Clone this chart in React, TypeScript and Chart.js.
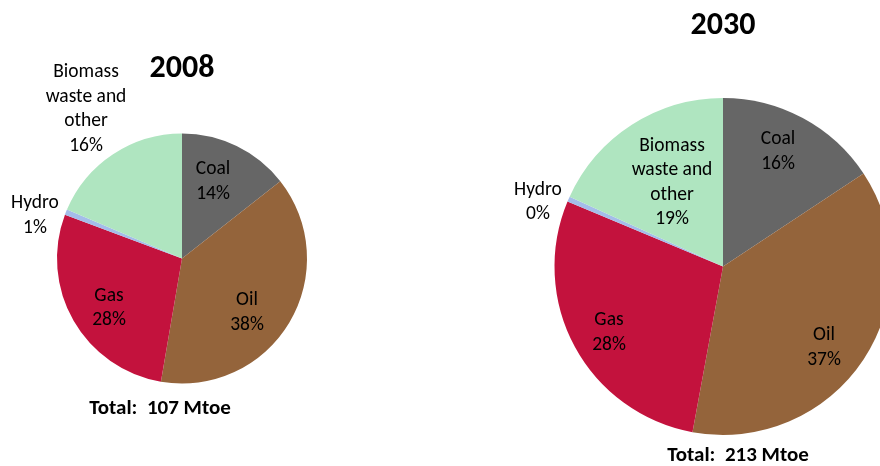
import React, { useEffect, useRef } from "react";
import { Chart, registerables } from "chart.js";

Chart.register(...registerables);

// ---- Data ----
const categories = ["Coal", "Oil", "Gas", "Hydro", "Biomass waste and other"];
const categoryLines = [["Coal"], ["Oil"], ["Gas"], ["Hydro"], ["Biomass", "waste and", "other"]];
const colors = ["#666666", "#94643B", "#C3123D", "#A4BDE9", "#AFE5C0"];
const shares2008 = [14.4, 38.3, 28.0, 0.7, 18.6];
const shares2030 = [15.7, 37.2, 28.4, 0.5, 18.2];
const pctLabels2008 = ["14%", "38%", "28%", "1%", "16%"];
const pctLabels2030 = ["16%", "37%", "28%", "0%", "19%"];
const titles = ["2008", "2030"];
const totals = ["Total:  107 Mtoe", "Total:  213 Mtoe"];

// ---- Layout (offsets of label blocks from pie centre) ----
const FONT = "Carlito, Calibri, Lato, 'Open Sans', sans-serif";
const labelOffsets2008 = [[31, -77], [65, 54], [-73, 49.5], [-147, -43], [-96, -149.5]];
const labelOffsets2030 = [[55, -115], [101, 81], [-114, 66], [-185, -64.5], [-51, -84]];

type PieSpec = {
  values: number[];
  pcts: string[];
  offsets: number[][];
  title: string;
  total: string;
  titleOffset: number[];
  totalOffset: number[];
  canvasLeft: number;
  canvasWidth: number;
  padding: { left: number; right: number; top: number; bottom: number };
};

const pies: PieSpec[] = [
  {
    values: shares2008,
    pcts: pctLabels2008,
    offsets: labelOffsets2008,
    title: titles[0],
    total: totals[0],
    titleOffset: [0, -190],
    totalOffset: [-22, 150],
    canvasLeft: 0,
    canvasWidth: 440,
    padding: { left: 57, right: 133, top: 133.5, bottom: 82.5 },
  },
  {
    values: shares2030,
    pcts: pctLabels2030,
    offsets: labelOffsets2030,
    title: titles[1],
    total: totals[1],
    titleOffset: [0, -240.5],
    totalOffset: [15, 189],
    canvasLeft: 440,
    canvasWidth: 460,
    padding: { left: 114.5, right: 8.5, top: 98, bottom: 31 },
  },
];

function PieCanvas({ spec }: { spec: PieSpec }) {
  const ref = useRef<HTMLCanvasElement | null>(null);
  useEffect(() => {
    if (!ref.current) return;
    const labelPlugin = {
      id: "pieLabels",
      afterDatasetsDraw(chart: any) {
        const ctx = chart.ctx;
        const arc = chart.getDatasetMeta(0).data[0];
        if (!arc) return;
        const cx = arc.x;
        const cy = arc.y;
        ctx.save();
        ctx.textAlign = "center";
        ctx.textBaseline = "middle";
        ctx.fillStyle = "#000000";
        ctx.font = `19.5px ${FONT}`;
        const lh = 24.5;
        categories.forEach((_, i) => {
          const lines = [...categoryLines[i], spec.pcts[i]];
          const [dx, dy] = spec.offsets[i];
          const startY = cy + dy - ((lines.length - 1) * lh) / 2;
          lines.forEach((ln, j) => {
            ctx.fillText(ln, cx + dx, startY + j * lh);
          });
        });
        ctx.font = `bold 32px ${FONT}`;
        ctx.fillText(spec.title, cx + spec.titleOffset[0], cy + spec.titleOffset[1]);
        ctx.font = `bold 21px ${FONT}`;
        ctx.fillText(spec.total, cx + spec.totalOffset[0], cy + spec.totalOffset[1]);
        ctx.restore();
      },
    };
    const chart = new Chart(ref.current, {
      type: "pie",
      data: {
        labels: categories,
        datasets: [
          {
            data: spec.values,
            backgroundColor: colors,
            borderWidth: 0,
            hoverOffset: 0,
          },
        ],
      },
      options: {
        responsive: false,
        animation: false,
        layout: { padding: spec.padding },
        plugins: {
          legend: { display: false },
          tooltip: { enabled: false },
        },
        events: [],
      },
      plugins: [labelPlugin],
    });
    return () => chart.destroy();
  }, [spec]);
  return (
    <canvas
      ref={ref}
      width={spec.canvasWidth}
      height={466}
      style={{ position: "absolute", left: spec.canvasLeft, top: 0, width: spec.canvasWidth, height: 466 }}
    />
  );
}

export default function App() {
  useEffect(() => {
    document.body.style.margin = "0";
    document.body.style.background = "#ffffff";
  }, []);
  return (
    <div style={{ position: "relative", width: 880, height: 466, overflow: "hidden", background: "#ffffff" }}>
      {pies.map((p, i) => (
        <PieCanvas key={i} spec={p} />
      ))}
    </div>
  );
}
